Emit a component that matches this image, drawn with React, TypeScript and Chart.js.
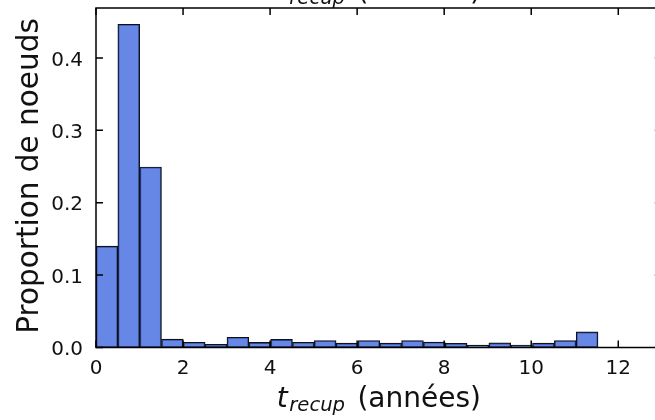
import { useEffect, useRef } from 'react';
import { Chart, registerables } from 'chart.js';

Chart.register(...registerables);

// ---- data ----
const binWidth = 0.5015; // years per bin (23 bins from 0 to ~11.5)
const proportions = [
  0.140, 0.4466, 0.2494, 0.0115, 0.0073, 0.0045, 0.0142, 0.0070,
  0.0112, 0.0073, 0.0097, 0.0060, 0.0097, 0.0060, 0.0097, 0.0075,
  0.0058, 0.0032, 0.0064, 0.0035, 0.0060, 0.0097, 0.0215,
];
const xTicks = [0, 2, 4, 6, 8, 10, 12];
const yTicks = [0, 0.1, 0.2, 0.3, 0.4];
const xMin = 0;
const xMax = 13;
const yMin = 0;
const yMax = 0.469;
const xLabelVar = 't';
const xLabelSub = 'recup';
const xLabelRest = '(années)';
const yLabel = 'Proportion de noeuds';

const FONT = '"DejaVu Sans"';

function drawXLabel(ctx: CanvasRenderingContext2D, cx: number, baseline: number) {
  const F = 28;
  ctx.font = `italic ${F}px ${FONT}`;
  const tW = ctx.measureText(xLabelVar).width;
  ctx.font = `italic ${F * 0.7}px ${FONT}`;
  const subW = ctx.measureText(xLabelSub).width;
  ctx.font = `${F}px ${FONT}`;
  const spaceW = ctx.measureText(' ').width;
  const restW = ctx.measureText(xLabelRest).width;
  const gap1 = 1.5;
  const extra = 3.5;
  const total = tW + gap1 + subW + spaceW + extra + restW;
  const x0 = cx - total / 2;
  ctx.textAlign = 'left';
  ctx.textBaseline = 'alphabetic';
  ctx.fillStyle = '#111';
  ctx.font = `italic ${F}px ${FONT}`;
  ctx.fillText(xLabelVar, x0, baseline);
  ctx.font = `italic ${F * 0.7}px ${FONT}`;
  ctx.fillText(xLabelSub, x0 + tW + gap1, baseline + 4);
  ctx.font = `${F}px ${FONT}`;
  ctx.fillText(xLabelRest, x0 + tW + gap1 + subW + spaceW + extra, baseline);
}

const framePlugin = {
  id: 'mplFrame',
  afterDraw(chart: any) {
    const { ctx, chartArea: a, scales } = chart;
    const x = scales.x;
    const y = scales.y;
    ctx.save();
    ctx.strokeStyle = '#000';
    ctx.lineWidth = 1.5;
    ctx.strokeRect(a.left, a.top, a.right - a.left, a.bottom - a.top);
    const L = 7;
    ctx.beginPath();
    x.ticks.forEach((t: any) => {
      const px = x.getPixelForValue(t.value);
      ctx.moveTo(px, a.bottom);
      ctx.lineTo(px, a.bottom - L);
      ctx.moveTo(px, a.top);
      ctx.lineTo(px, a.top + L);
    });
    y.ticks.forEach((t: any) => {
      const py = y.getPixelForValue(t.value);
      ctx.moveTo(a.left, py);
      ctx.lineTo(a.left + L, py);
      ctx.moveTo(a.right, py);
      ctx.lineTo(a.right - L, py);
    });
    ctx.stroke();

    const cx = (a.left + a.right) / 2;
    drawXLabel(ctx, cx, a.bottom + 59.2);
    drawXLabel(ctx, cx, a.top - 7.7);

    ctx.save();
    ctx.translate(38, 176);
    ctx.rotate(-Math.PI / 2);
    ctx.textAlign = 'center';
    ctx.textBaseline = 'alphabetic';
    ctx.fillStyle = '#111';
    ctx.font = `29.5px ${FONT}`;
    ctx.fillText(yLabel, 0, 0);
    ctx.restore();
    ctx.restore();
  },
};

export default function App() {
  const ref = useRef<HTMLCanvasElement | null>(null);

  useEffect(() => {
    if (!ref.current) return;
    const data = proportions.map((v, i) => ({ x: (i + 0.5) * binWidth, y: v }));
    const chart = new Chart(ref.current, {
      type: 'bar',
      data: {
        datasets: [
          {
            data: data as any,
            backgroundColor: 'rgba(65,105,225,0.8)',
            borderColor: '#111',
            borderWidth: 1.2,
            borderSkipped: false,
            barPercentage: 1,
            categoryPercentage: 1,
          },
        ],
      },
      options: {
        animation: false,
        responsive: false,
        devicePixelRatio: 1,
        events: [],
        layout: { padding: { left: 0, top: 8, right: 700 - 661.8, bottom: 0 } },
        plugins: { legend: { display: false }, tooltip: { enabled: false }, title: { display: false } },
        scales: {
          x: {
            type: 'linear',
            min: xMin,
            max: xMax,
            offset: false,
            grid: { display: false, drawTicks: false },
            border: { display: false },
            ticks: {
              font: { family: FONT, size: 20 },
              color: '#111',
              padding: 9,
              includeBounds: false,
              maxRotation: 0,
              autoSkip: false,
              callback: (v: any) => String(v),
            },
            afterBuildTicks: (s: any) => {
              s.ticks = xTicks.map((v) => ({ value: v }));
            },
            afterFit: (s: any) => {
              s.height = 72.5;
              s.paddingLeft = 0;
              s.paddingRight = 0;
            },
          },
          y: {
            type: 'linear',
            min: yMin,
            max: yMax,
            grid: { display: false, drawTicks: false },
            border: { display: false },
            ticks: {
              font: { family: FONT, size: 20 },
              color: '#111',
              padding: 13,
              includeBounds: false,
              labelOffset: 2.5,
              autoSkip: false,
              callback: (v: any) => Number(v).toFixed(1),
            },
            afterBuildTicks: (s: any) => {
              s.ticks = yTicks.map((v) => ({ value: v }));
            },
            afterFit: (s: any) => {
              s.width = 96;
              s.paddingTop = 0;
              s.paddingBottom = 0;
            },
          },
        },
      },
      plugins: [framePlugin],
    });
    return () => chart.destroy();
  }, []);

  return (
    <div style={{ position: 'absolute', left: 0, top: 0, width: 655, height: 420, overflow: 'hidden', background: '#fff' }}>
      <canvas ref={ref} width={700} height={420} style={{ width: 700, height: 420, display: 'block' }} />
    </div>
  );
}
